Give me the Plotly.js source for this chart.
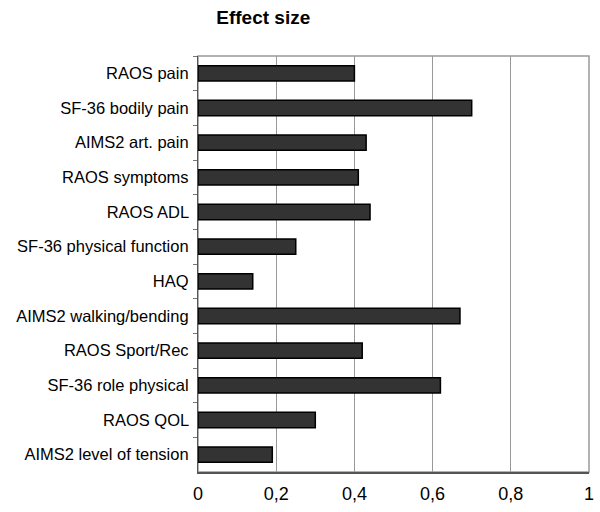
<!DOCTYPE html>
<html>
<head>
<meta charset="utf-8">
<script src="https://cdn.plot.ly/plotly-3.0.1.min.js"></script>
<style>
  html, body { margin: 0; padding: 0; background: #fff; }
  #chart { width: 600px; height: 512px; }
</style>
</head>
<body>
<div id="chart"></div>
<script>
var measures = ['RAOS pain', 'SF-36 bodily pain', 'AIMS2 art. pain', 'RAOS symptoms', 'RAOS ADL',
  'SF-36 physical function', 'HAQ', 'AIMS2 walking/bending', 'RAOS Sport/Rec',
  'SF-36 role physical', 'RAOS QOL', 'AIMS2 level of tension'];
var effectSize = [0.40, 0.70, 0.43, 0.41, 0.44, 0.25, 0.14, 0.67, 0.42, 0.62, 0.30, 0.19];
var xTicks = [0, 0.2, 0.4, 0.6, 0.8, 1];

var trace = {
  type: 'bar',
  orientation: 'h',
  x: effectSize,
  y: measures,
  marker: { color: '#333333', line: { color: '#000', width: 1.5 } },
  hoverinfo: 'x+y'
};

var layout = {
  width: 600,
  height: 512,
  separators: ', ',
  paper_bgcolor: '#fff',
  plot_bgcolor: '#fff',
  showlegend: false,
  bargap: 0.56,
  font: { family: 'Liberation Sans, Arial, sans-serif', size: 16.5, color: '#000' },
  title: {
    text: '<b>Effect size</b>',
    font: { size: 19, color: '#000' },
    xref: 'paper', x: 0.167, xanchor: 'center',
    yref: 'container', y: 0.98, yanchor: 'top'
  },
  margin: { l: 198, r: 11, t: 56, b: 40 },
  xaxis: {
    range: [0, 1],
    tickvals: xTicks,
    tickformat: '.1~f',
    showgrid: true,
    gridcolor: '#999',
    gridwidth: 1,
    zeroline: false,
    showline: true,
    linecolor: '#555',
    linewidth: 1.5,
    ticks: 'outside',
    ticklen: 5,
    tickcolor: '#fff',
    tickfont: { size: 18 },
    fixedrange: true
  },
  yaxis: {
    autorange: 'reversed',
    showgrid: false,
    zeroline: false,
    showline: true,
    linecolor: '#555',
    linewidth: 1.5,
    ticks: 'outside',
    tickson: 'boundaries',
    ticklen: 4,
    tickcolor: '#777',
    ticksuffix: ' ',
    tickfont: { size: 16.5 },
    fixedrange: true
  },
  shapes: [{
    type: 'rect', xref: 'paper', yref: 'paper',
    x0: 0, x1: 1, y0: 0, y1: 1,
    line: { color: '#999', width: 1.5 }, layer: 'below'
  }]
};

Plotly.newPlot('chart', [trace], layout, { displayModeBar: false, staticPlot: true });
</script>
</body>
</html>
